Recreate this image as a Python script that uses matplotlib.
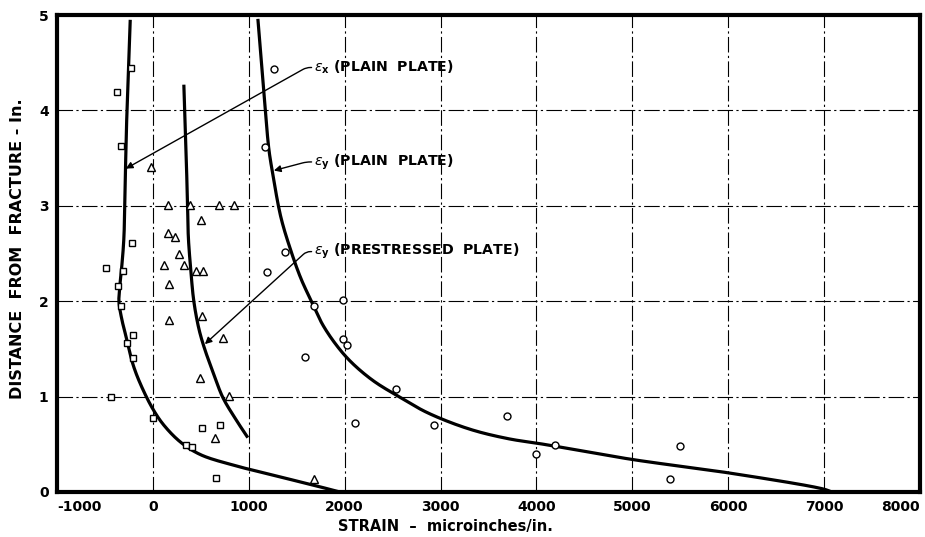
import numpy as np
import matplotlib
matplotlib.use("Agg")
import matplotlib.pyplot as plt

plt.rcParams['font.family'] = ['DejaVu Sans']
plt.rcParams['mathtext.fontset'] = 'dejavusans'

# --- data ---
# eps_x plain plate (squares)
sq_x = [-230, -375, -334, -219, -490, -313, -365, -334, -209, -271, -209, -440, 0, 344, 407, 511, 699, 657]
sq_y = [4.44, 4.19, 3.63, 2.61, 2.35, 2.32, 2.16, 1.95, 1.65, 1.56, 1.40, 1.00, 0.78, 0.49, 0.47, 0.67, 0.70, 0.15]

# eps_y prestressed plate (triangles)
tri_x = [-21, 156, 386, 688, 845, 500, 156, 229, 271, 115, 323, 448, 521, 167, 167, 511, 730, 490, 792, 647, 1678]
tri_y = [3.41, 3.01, 3.01, 3.01, 3.01, 2.85, 2.72, 2.67, 2.49, 2.38, 2.38, 2.32, 2.32, 2.18, 1.80, 1.85, 1.61, 1.20, 1.01, 0.57, 0.14]

# eps_y plain plate (circles)
cir_x = [1261, 1170, 1377, 1189, 1679, 1981, 1981, 2023, 1585, 2534, 2106, 2930, 3691, 4192, 3994, 5495, 5391]
cir_y = [4.43, 3.62, 2.52, 2.31, 1.95, 2.01, 1.60, 1.54, 1.41, 1.08, 0.72, 0.70, 0.80, 0.49, 0.40, 0.48, 0.14]

# faired curves
cx_x = [-236, -270, -290, -302, -323, -344, -354, -326, -280, -205, -120, 0, 115, 292, 500, 845, 1199, 1720, 1950]
cx_y = [4.95, 4.00, 3.20, 2.67, 2.38, 2.17, 2.00, 1.82, 1.63, 1.33, 1.11, 0.87, 0.70, 0.52, 0.39, 0.28, 0.19, 0.06, 0.00]

cp_x = [323, 345, 362, 370, 396, 427, 480, 540, 626, 730, 866, 990]
cp_y = [4.27, 3.60, 3.00, 2.67, 2.32, 2.00, 1.71, 1.50, 1.26, 0.99, 0.76, 0.57]

cy_x = [1095, 1147, 1178, 1210, 1251, 1335, 1439, 1543, 1648, 1773, 1929, 2080, 2300, 2565, 2866, 3300, 3700, 4077, 5005, 6006, 6997, 7080]
cy_y = [4.96, 4.33, 3.94, 3.59, 3.33, 2.88, 2.53, 2.24, 2.01, 1.75, 1.52, 1.35, 1.165, 1.00, 0.83, 0.66, 0.56, 0.50, 0.34, 0.20, 0.03, 0.00]

xticks = [-1000, 0, 1000, 2000, 3000, 4000, 5000, 6000, 7000, 8000]
xticklabels = ["-1000", "0", "1000", "2000", "3000", "4000", "5000", "6000", "7000", "8000"]
yticks = [0, 1, 2, 3, 4, 5]


def smooth(xs, ys, n=25):
    """Centripetal Catmull-Rom through the read points."""
    P = np.column_stack([np.asarray(xs, float) / 1000.0, np.asarray(ys, float)])
    P = np.vstack([2 * P[0] - P[1], P, 2 * P[-1] - P[-2]])
    out = []
    for i in range(1, len(P) - 2):
        p0, p1, p2, p3 = P[i - 1], P[i], P[i + 1], P[i + 2]
        t0 = 0.0
        t1 = t0 + np.linalg.norm(p1 - p0) ** 0.5
        t2 = t1 + np.linalg.norm(p2 - p1) ** 0.5
        t3 = t2 + np.linalg.norm(p3 - p2) ** 0.5
        t = np.linspace(t1, t2, n)[:, None]
        a1 = (t1 - t) / (t1 - t0) * p0 + (t - t0) / (t1 - t0) * p1
        a2 = (t2 - t) / (t2 - t1) * p1 + (t - t1) / (t2 - t1) * p2
        a3 = (t3 - t) / (t3 - t2) * p2 + (t - t2) / (t3 - t2) * p3
        b1 = (t2 - t) / (t2 - t0) * a1 + (t - t0) / (t2 - t0) * a2
        b2 = (t3 - t) / (t3 - t1) * a2 + (t - t1) / (t3 - t1) * a3
        c = (t2 - t) / (t2 - t1) * b1 + (t - t1) / (t2 - t1) * b2
        out.append(c)
    C = np.vstack(out)
    return C[:, 0] * 1000.0, C[:, 1]


fig = plt.figure(figsize=(9.25, 5.37), dpi=100)
ax = fig.add_axes([0.0616, 0.0838, 0.9330, 0.8882])
ax.set_xlim(-1000, 8000)
ax.set_ylim(0, 5)

# grid
gls = (0, (14, 3, 2, 3))
for xv in xticks[1:-1]:
    ax.axvline(xv, color='black', lw=0.8, ls=gls, zorder=1)
for yv in yticks[1:-1]:
    ax.axhline(yv, color='black', lw=0.8, ls=gls, zorder=1)

# curves
for xs, ys in [(cx_x, cx_y), (cp_x, cp_y), (cy_x, cy_y)]:
    sx, sy = smooth(xs, ys)
    ax.plot(sx, sy, color='black', lw=2.3, solid_capstyle='butt', zorder=2)

mk = dict(mfc='white', mec='black', mew=1.0, ls='none', zorder=3)
ax.plot(sq_x, sq_y, marker='s', ms=4.5, **mk)
ax.plot(tri_x, tri_y, marker='^', ms=6, **mk)
ax.plot(cir_x, cir_y, marker='o', ms=5, **mk)

# annotations
ann = [
    (r"$\epsilon_{\mathbf{x}}$ (PLAIN  PLATE)", (1684, 4.45), (-282, 3.39)),
    (r"$\epsilon_{\mathbf{y}}$ (PLAIN  PLATE)", (1684, 3.46), (1262, 3.37)),
    (r"$\epsilon_{\mathbf{y}}$ (PRESTRESSED  PLATE)", (1684, 2.52), (542, 1.55)),
]
for txt, xyt, xy in ann:
    ax.annotate(txt, xy=xy, xytext=xyt, ha='left', va='center', fontsize=10.2,
                fontweight='bold',
                arrowprops=dict(arrowstyle='-|>', color='black', lw=1.0,
                                mutation_scale=10, shrinkA=0, shrinkB=0,
                                connectionstyle="arc,angleA=180,angleB=0,armA=8,armB=0,rad=4",
                                relpos=(0, 0.5)),
                zorder=4)

ax.set_xticks(xticks)
ax.set_xticklabels(xticklabels)
ax.set_yticks(yticks)
ax.tick_params(length=0, labelsize=10, pad=6)
for lab in ax.get_xticklabels() + ax.get_yticklabels():
    lab.set_fontweight('bold')
xl = ax.get_xticklabels()
xl[0].set_ha('left')
xl[-1].set_ha('right')

for s in ax.spines.values():
    s.set_linewidth(3)
    s.set_color('black')

fig.text(445 / 925, 1 - 527 / 537, "STRAIN  \u2013  microinches/in.", fontsize=10.5,
         fontweight='bold', ha='center', va='center')
ax.set_ylabel("DISTANCE  FROM  FRACTURE - In.", fontsize=11.5, fontweight='bold')
ax.yaxis.set_label_coords(-0.037, 0.51)

fig.savefig("out.png", dpi=100)
